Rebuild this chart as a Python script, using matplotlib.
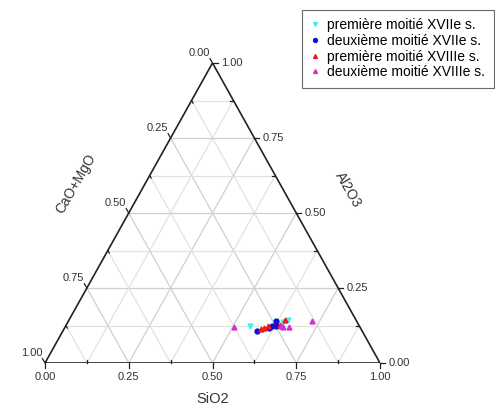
import numpy as np
import matplotlib
matplotlib.use('Agg')
import matplotlib.pyplot as plt

plt.rcParams['font.family'] = ['Liberation Sans', 'DejaVu Sans']

# Series (SiO2, Al2O3) ; CaO+MgO = 1 - SiO2 - Al2O3
series_names = ['première moitié XVIIe s.', 'deuxième moitié XVIIe s.',
                'première moitié XVIIIe s.', 'deuxième moitié XVIIIe s.']
series_colors = ['#40f0f0', '#1010d0', '#f01818', '#d030d0']
series_markers = ['v', 'o', '^', '^']

sio2_17a = [0.550, 0.655, 0.640]
al2o3_17a = [0.123, 0.143, 0.138]
sio2_17b = [0.578, 0.615, 0.619, 0.628, 0.610]
al2o3_17b = [0.108, 0.123, 0.141, 0.123, 0.118]
sio2_18a = [0.597, 0.603, 0.637, 0.645, 0.590]
al2o3_18a = [0.116, 0.123, 0.128, 0.143, 0.112]
sio2_18b = [0.504, 0.649, 0.669, 0.726, 0.641]
al2o3_18b = [0.121, 0.121, 0.121, 0.141, 0.125]

tick_values = [0.0, 0.25, 0.5, 0.75, 1.0]
minor_values = [0.125, 0.375, 0.625, 0.875]
grid_values = [0.125, 0.25, 0.375, 0.5, 0.625, 0.75, 0.875]


def to_xy(s, a):
    s = np.asarray(s)
    a = np.asarray(a)
    return s + a / 2.0, a


W, H = 495, 407
fig = plt.figure(figsize=(W / 100, H / 100), dpi=100)
# triangle: bottom-left (45,363), bottom-right (380,363), apex y=63
ax = fig.add_axes([45 / W, (H - 363) / H, 335 / W, 300 / H])
ax.set_xlim(0, 1)
ax.set_ylim(0, 1)
ax.axis('off')
PX, PY = 1 / 335, 1 / 300

# grid
for k in grid_values:
    col = '#cfcfcf' if k in tick_values else '#e2e2e2'
    # Al2O3 = k
    x, y = to_xy([0, 1 - k], [k, k])
    ax.plot(x, y, color=col, lw=0.9, zorder=1)
    # SiO2 = k
    x, y = to_xy([k, k], [0, 1 - k])
    ax.plot(x, y, color=col, lw=0.9, zorder=1)
    # CaO = k
    x, y = to_xy([1 - k, 0], [0, 1 - k])
    ax.plot(x, y, color=col, lw=0.9, zorder=1)

# frame
x, y = to_xy([0, 1, 0, 0], [0, 0, 1, 0])
ax.plot(x, y, color='#222222', lw=1.2, zorder=2, solid_joinstyle='miter')

# ticks
for k in tick_values + minor_values:
    major = k in tick_values
    L = 5 if major else -3
    # bottom (SiO2)
    bx, by = to_xy(k, 0)
    ax.plot([bx, bx], [by, by - L * PY], color='#222222', lw=0.9, clip_on=False)
    # right (Al2O3)
    rx, ry = to_xy(1 - k, k)
    ax.plot([rx, rx + L * PX], [ry, ry], color='#222222', lw=0.9, clip_on=False)
    # left (CaO+MgO)
    lx, ly = to_xy(0, 1 - k)
    ax.plot([lx, lx - 0.5 * L * PX], [ly, ly + 0.87 * L * PY], color='#222222',
            lw=0.9, clip_on=False)

# tick labels
for k in tick_values:
    lab = '%.2f' % k
    bx, by = to_xy(k, 0)
    ax.annotate(lab, (bx, by), xytext=(0, -10), textcoords='offset points',
                ha='center', va='center', fontsize=8, color='#333333')
    rx, ry = to_xy(1 - k, k)
    ax.annotate(lab, (rx, ry), xytext=(6, 0), textcoords='offset points',
                ha='left', va='center', fontsize=8, color='#333333')
    lx, ly = to_xy(0, 1 - k)
    ax.annotate(lab, (lx, ly), xytext=(-2, 7), textcoords='offset points',
                ha='right', va='center', fontsize=8, color='#333333')

# axis titles
ax.annotate('SiO2', (0.5, 0), xytext=(0, -26), textcoords='offset points',
            ha='center', va='center', fontsize=10.5, color='#333333')
ax.annotate('Al2O3', to_xy(0.5, 0.5), xytext=(37, 17), textcoords='offset points',
            ha='center', va='center', fontsize=10, color='#333333', rotation=-60)
ax.annotate('CaO+MgO', to_xy(0, 0.5), xytext=(-38, 21), textcoords='offset points',
            ha='center', va='center', fontsize=10, color='#333333', rotation=60)

# data
data = [(sio2_17a, al2o3_17a), (sio2_17b, al2o3_17b),
        (sio2_18a, al2o3_18a), (sio2_18b, al2o3_18b)]
handles = []
for (s, a), name, c, m in zip(data, series_names, series_colors, series_markers):
    x, y = to_xy(s, a)
    h, = ax.plot(x, y, ls='none', marker=m, ms=3.5, color=c, mec=c, label=name,
                 zorder=3)
    handles.append(h)

leg = fig.legend(handles=handles, loc='upper left',
                 bbox_to_anchor=(302 / W, 1 - 10 / H, 192 / W, 0.0),
                 mode='expand', frameon=True, fancybox=False, fontsize=10,
                 handlelength=0.6, handletextpad=0.6, borderpad=0.6,
                 labelspacing=0.12, borderaxespad=0, markerscale=0.8)
leg.get_frame().set_edgecolor('#444444')
leg.get_frame().set_linewidth(0.8)

fig.savefig('out.png', dpi=100, facecolor='white')
